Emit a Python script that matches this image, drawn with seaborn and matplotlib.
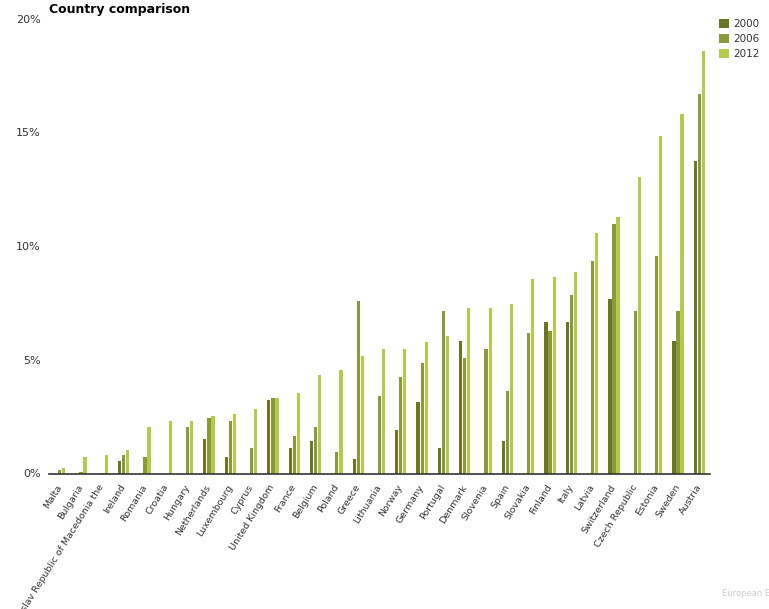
import matplotlib
matplotlib.use("Agg")
import matplotlib.pyplot as plt
import seaborn as sns
import numpy as np
import pandas as pd
from matplotlib.ticker import FuncFormatter

countries = ["Malta", "Bulgaria", "Former Yugoslav Republic of Macedonia the", "Ireland",
             "Romania", "Croatia", "Hungary", "Netherlands", "Luxembourg", "Cyprus",
             "United Kingdom", "France", "Belgium", "Poland", "Greece", "Lithuania",
             "Norway", "Germany", "Portugal", "Denmark", "Slovenia", "Spain", "Slovakia",
             "Finland", "Italy", "Latvia", "Switzerland", "Czech Republic", "Estonia",
             "Sweden", "Austria"]
nan = np.nan
v2000 = [nan, nan, nan, 0.58, nan, nan, nan, 1.55, 0.75, nan,
         3.27, 1.15, 1.46, nan, 0.66, nan, 1.95, 3.19, 1.15, 5.88,
         nan, 1.46, nan, 6.68, 6.68, nan, 7.70, nan, nan, 5.88, 13.81]
v2006 = [0.18, 0.09, 0.06, 0.84, 0.75, nan, 2.08, 2.48, 2.35, 1.15,
         3.36, 1.68, 2.08, 0.97, 7.61, 3.45, 4.29, 4.87, 7.17, 5.09,
         5.49, 3.67, 6.19, 6.28, 7.88, 9.38, 11.02, 7.17, 9.60, 7.17, 16.73]
v2012 = [0.27, 0.75, 0.84, 1.06, 2.08, 2.35, 2.35, 2.57, 2.65, 2.88,
         3.36, 3.58, 4.38, 4.56, 5.18, 5.49, 5.49, 5.80, 6.06, 7.30,
         7.30, 7.48, 8.58, 8.67, 8.89, 10.62, 11.33, 13.10, 14.91, 15.84, 18.63]
years = ["2000", "2006", "2012"]
colors = ["#6b7524", "#8a9a3a", "#b5ca4b"]

df = pd.DataFrame({
    "country": countries * 3,
    "year": [y for y in years for _ in countries],
    "value": v2000 + v2006 + v2012,
})

sns.set_style("white")
plt.rcParams['font.family'] = ['DejaVu Sans']

W, H = 769, 609
fig = plt.figure(figsize=(W / 100, H / 100), dpi=100)
ax = fig.add_axes([49 / W, (H - 474) / H, (710 - 49) / W, (474 - 20) / H])

sns.barplot(data=df, x="country", y="value", hue="year", hue_order=years,
            palette=colors, width=0.57, gap=0.2, ax=ax, saturation=1,
            linewidth=0, edgecolor="none", legend=True)

ax.set_xlim(-0.5, len(countries) - 0.5)
ax.set_ylim(0, 20)
ax.set_yticks([0, 5, 10, 15, 20])
ax.yaxis.set_major_formatter(FuncFormatter(lambda v, p: f"{int(v)}%"))
ax.set_xlabel("")
ax.set_ylabel("")
for s in ["top", "right", "left"]:
    ax.spines[s].set_visible(False)
ax.spines["bottom"].set_color("#333333")
ax.spines["bottom"].set_linewidth(1.2)
ax.tick_params(axis="both", length=0, colors="#333333", labelsize=8)
ax.tick_params(axis="y", pad=6)
ax.tick_params(axis="x", pad=8)
plt.setp(ax.get_xticklabels(), rotation=58, ha="right", va="center",
         rotation_mode="anchor", fontsize=6.8, color="#333333")
for lab in ax.get_yticklabels():
    lab.set_va("center")

leg = ax.legend(loc="upper left", bbox_to_anchor=(719 / W, 1 - 19 / H),
                bbox_transform=fig.transFigure, frameon=False, fontsize=7.5,
                handlelength=1.0, handleheight=1.0, handletextpad=0.35,
                labelspacing=0.45, borderaxespad=0, borderpad=0)
for t in leg.get_texts():
    t.set_color("#333333")

fig.text(49 / W, 1 - 3 / H, "Country comparison", fontsize=9, fontweight="bold",
         ha="left", va="top", color="black")
fig.text(722 / W, 1 - 594 / H, "European Environment Agency", fontsize=6,
         color="#cccccc", ha="left", va="center")

fig.savefig("out.png", dpi=100)
